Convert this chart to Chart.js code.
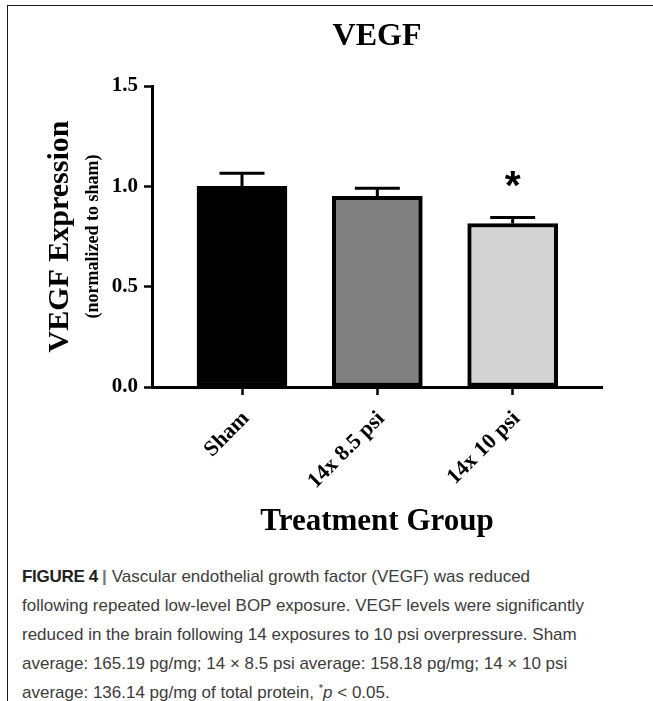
<!DOCTYPE html>
<html><head><meta charset="utf-8">
<script src="https://cdn.jsdelivr.net/npm/chart.js@4.4.1/dist/chart.umd.min.js"></script>
<style>
html,body{margin:0;padding:0;background:#fff;width:653px;height:701px;overflow:hidden}
#frame{position:absolute;left:7px;top:5px;width:646px;height:696px;border-left:1.5px solid #1a1a1a;border-top:1.5px solid #1a1a1a;box-sizing:border-box}
#chart{position:absolute;left:0;top:0}
#cap{position:absolute;left:22px;top:562px;font-family:"Liberation Sans",Arial,sans-serif;font-size:17px;line-height:29px;color:#3c3c3c;white-space:nowrap}
#cap b{color:#222;letter-spacing:-0.3px}
#cap .sep{color:#777;font-weight:bold;margin:0 5px 0 4px}
#cap .st{font-size:11px;line-height:0;vertical-align:6px}
</style></head><body>
<div id="frame"></div>
<canvas id="chart" width="653" height="560"></canvas>
<div id="cap"><b>FIGURE 4</b><span class="sep">|</span>Vascular endothelial growth factor (VEGF) was reduced<br>following repeated low-level BOP exposure. VEGF levels were significantly<br>reduced in the brain following 14 exposures to 10 psi overpressure. Sham<br>average: 165.19 pg/mg; 14 × 8.5 psi average: 158.18 pg/mg; 14 × 10 psi<br>average: 136.14 pg/mg of total protein, <span class="st">*</span><i>p</i> &lt; 0.05.</div>
<script>
const categories = ["Sham", "14x 8.5 psi", "14x 10 psi"];
const means = [1.0, 0.95, 0.815];
const sems = [0.065, 0.04, 0.03];
const significance = ["", "", "*"];
const yTicks = [0, 0.5, 1.0, 1.5];
const barColors = ["#000000", "#808080", "#d3d3d3"];

const SERIF = '"Liberation Serif", "Times New Roman", serif';

const errorBars = {
  id: 'errorBars',
  afterDatasetsDraw(chart) {
    const {ctx, scales: {y}, chartArea} = chart;
    const meta = chart.getDatasetMeta(0);
    ctx.save();
    ctx.strokeStyle = '#000';
    ctx.lineWidth = 3;
    ctx.lineCap = 'butt';
    meta.data.forEach((bar, i) => {
      const cx = bar.x;
      const top = y.getPixelForValue(means[i] + sems[i]);
      const base = y.getPixelForValue(means[i]);
      ctx.beginPath();
      ctx.moveTo(cx, base);
      ctx.lineTo(cx, top);
      ctx.moveTo(cx - 22.5, top);
      ctx.lineTo(cx + 22.5, top);
      ctx.stroke();
      if (significance[i]) {
        ctx.font = 'bold 41px "Liberation Sans", Arial, sans-serif';
        ctx.textAlign = 'center';
        ctx.textBaseline = 'alphabetic';
        ctx.fillStyle = '#000';
        ctx.fillText(significance[i], cx, top - 18);
      }
    });
    // y-axis subtitle
    ctx.translate(chartArea.left - 59, (chartArea.top + chartArea.bottom) / 2);
    ctx.rotate(-Math.PI / 2);
    ctx.font = 'bold 18px ' + SERIF;
    ctx.textAlign = 'center';
    ctx.textBaseline = 'middle';
    ctx.fillStyle = '#000';
    ctx.fillText('(normalized to sham)', 0, 0);
    ctx.restore();
  }
};

new Chart(document.getElementById('chart'), {
  type: 'bar',
  data: {
    datasets: [{
      data: means.map((m, i) => ({x: i + 1, y: m})),
      backgroundColor: barColors,
      borderColor: '#000',
      borderWidth: 4,
      borderSkipped: false,
      barThickness: 90
    }]
  },
  options: {
    responsive: false,
    devicePixelRatio: 1,
    animation: false,
    layout: {padding: {left: 0, right: 51, top: 0, bottom: 19}},
    plugins: {
      legend: {display: false},
      tooltip: {enabled: false},
      title: {
        display: true, text: 'VEGF', fullSize: false, color: '#000',
        font: {family: SERIF, weight: 'bold', size: 32},
        padding: {top: 18, bottom: 29.6}
      }
    },
    scales: {
      x: {
        type: 'linear', min: 0.335, max: 3.66, offset: false,
        grid: {display: true, drawOnChartArea: false, drawTicks: true, tickLength: 8, tickWidth: 2.5, tickColor: '#000', offset: false},
        border: {display: true, color: '#000', width: 3},
        afterBuildTicks: s => { s.ticks = categories.map((_, i) => ({value: i + 1})); },
        afterFit: s => { s.height = 154; },
        ticks: {
          autoSkip: false, minRotation: 45, maxRotation: 45, color: '#000', padding: 11, labelOffset: 4,
          font: {family: SERIF, weight: 'bold', size: 22},
          callback: v => categories[v - 1]
        },
        title: {
          display: true, text: 'Treatment Group', color: '#000',
          font: {family: SERIF, weight: 'bold', size: 31},
          padding: {top: 0, bottom: 0}
        }
      },
      y: {
        min: 0, max: 1.5,
        afterBuildTicks: s => { s.ticks = yTicks.map(v => ({value: v})); },
        afterFit: s => { s.width = 152; },
        grid: {drawOnChartArea: false, drawTicks: true, tickLength: 8, tickWidth: 2.5, tickColor: '#000'},
        border: {display: true, color: '#000', width: 3},
        ticks: {
          color: '#000', padding: 6,
          font: {family: SERIF, weight: 'bold', size: 21},
          callback: v => v.toFixed(1)
        },
        title: {
          display: true, text: 'VEGF Expression', color: '#000',
          font: {family: SERIF, weight: 'bold', size: 30},
          padding: {top: 42, bottom: 0}
        }
      }
    }
  },
  plugins: [errorBars]
});
</script>
</body></html>
